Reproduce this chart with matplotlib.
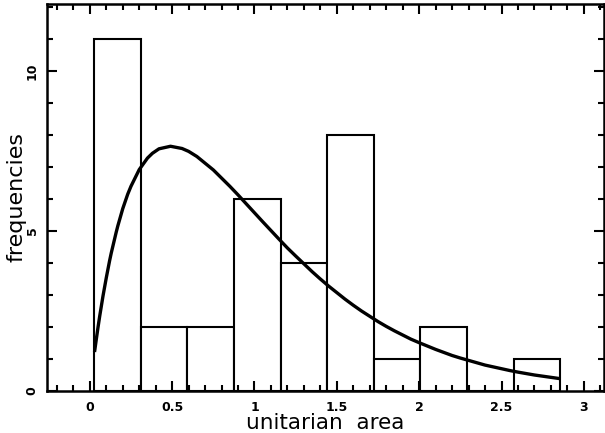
import matplotlib
matplotlib.use("Agg")
import numpy as np
import matplotlib.pyplot as plt
from matplotlib.ticker import MultipleLocator

# histogram of unitarian areas
bin_edges = [0.027, 0.310, 0.593, 0.876, 1.159, 1.442, 1.725, 2.008, 2.291, 2.574, 2.857]
counts = [11, 2, 2, 6, 4, 8, 1, 2, 0, 1]

# fitted curve
curve_x = [0.03, 0.04, 0.05, 0.06, 0.08, 0.10, 0.12, 0.13, 0.16, 0.17, 0.20,
           0.23, 0.25, 0.30, 0.35, 0.38, 0.42, 0.49, 0.56, 0.60, 0.65, 0.75,
           0.85, 0.90, 0.95, 1.05, 1.15, 1.20, 1.25, 1.35, 1.40, 1.45, 1.55,
           1.60, 1.65, 1.75, 1.80, 1.85, 1.95, 2.00, 2.10, 2.20, 2.25, 2.40,
           2.55, 2.60, 2.70, 2.85]
curve_y = [1.27, 1.64, 2.00, 2.34, 2.97, 3.54, 4.07, 4.31, 4.96, 5.16, 5.70,
           6.15, 6.40, 6.92, 7.28, 7.43, 7.57, 7.65, 7.58, 7.49, 7.33, 6.91,
           6.40, 6.13, 5.85, 5.29, 4.74, 4.47, 4.22, 3.73, 3.50, 3.28, 2.87,
           2.68, 2.50, 2.17, 2.02, 1.88, 1.62, 1.51, 1.30, 1.11, 1.03, 0.81,
           0.64, 0.59, 0.50, 0.39]

fig = plt.figure(figsize=(6.05, 4.33), dpi=100)
ax = fig.add_axes([0.0777, 0.097, 0.920, 0.894])

widths = np.diff(bin_edges)
ax.bar(bin_edges[:-1], counts, width=widths, align="edge",
       facecolor="white", edgecolor="black", lw=1.5)
ax.plot(curve_x, curve_y, c="black", lw=2.4, solid_joinstyle="round")

ax.set_xlim(-0.26, 3.12)
ax.set_ylim(0, 12.1)

ax.xaxis.set_major_locator(MultipleLocator(0.5))
ax.xaxis.set_minor_locator(MultipleLocator(0.1))
ax.yaxis.set_major_locator(MultipleLocator(5))
ax.yaxis.set_minor_locator(MultipleLocator(1))
ax.xaxis.set_major_formatter(plt.FuncFormatter(lambda v, p: "{:g}".format(v)))

ax.tick_params(which="both", direction="in", top=True, right=True, width=1.5)
ax.tick_params(which="major", length=7, labelsize=9, pad=6)
ax.tick_params(axis="x", which="major", pad=7)
ax.tick_params(which="minor", length=4)
for lab in ax.get_xticklabels() + ax.get_yticklabels():
    lab.set_fontweight("bold")
for lab in ax.get_yticklabels():
    lab.set_rotation(90)
    lab.set_va("center")
for s in ax.spines.values():
    s.set_linewidth(1.8)

ax.set_xlabel("unitarian  area", fontsize=15.5, va="baseline")
ax.xaxis.set_label_coords(0.5, -0.097)
ax.set_ylabel("frequencies", fontsize=16, va="center")
ax.yaxis.set_label_coords(-0.054, 0.5)

plt.savefig("out.png", dpi=100)
